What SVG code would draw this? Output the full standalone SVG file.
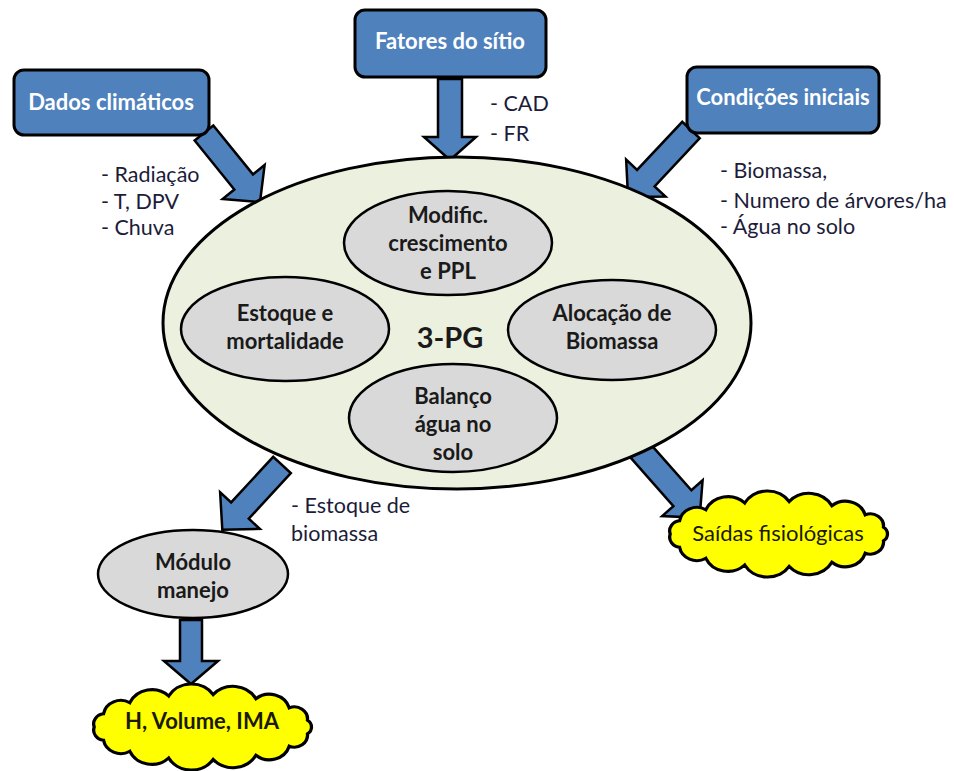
<svg xmlns="http://www.w3.org/2000/svg" width="954" height="771" viewBox="0 0 954 771">
<defs>
<style>
.box{fill:#4F81BD;stroke:#000;stroke-width:3}
.btxt{font-family:Lato,"Liberation Sans",sans-serif;font-weight:bold;font-size:22px;fill:#fff;text-anchor:middle}
.arr{fill:#4F81BD;stroke:#000;stroke-width:2.5;stroke-linejoin:miter}
.big{fill:#EBF1DE;stroke:#000;stroke-width:3}
.inner{fill:#D9D9D9;stroke:#000;stroke-width:2.5}
.itxt{font-family:Lato,"Liberation Sans",sans-serif;font-weight:bold;font-size:22px;fill:#1a1a1a;text-anchor:middle}
.lbl{font-family:Lato,"Liberation Sans",sans-serif;font-size:21.5px;fill:#1c1c3a}
.cloud{fill:#FFFF00;stroke:#000;stroke-width:3}
.ctxt{font-family:Lato,"Liberation Sans",sans-serif;font-weight:bold;font-size:22px;fill:#1a1a00;text-anchor:middle}
</style>
<path id="cloudShape" d="M -98 0 A 10 10 0 0 1 -89.5 -13 A 16 16 0 0 1 -65.6 -23.8 A 22 22 0 0 1 -30.3 -30.4 A 24 24 0 0 1 10.2 -31.8 A 24 24 0 0 1 49 -27.7 A 19 19 0 0 1 79.3 -18.8 A 12 12 0 0 1 95.9 -6.7 A 8 8 0 0 1 95.9 6.7 A 12 12 0 0 1 79.3 18.8 A 19 19 0 0 1 49 27.7 A 24 24 0 0 1 10.2 31.8 A 24 24 0 0 1 -30.3 30.4 A 22 22 0 0 1 -65.6 23.8 A 16 16 0 0 1 -89.5 13 A 10 10 0 0 1 -98 0 Z"/>
</defs>
<rect width="954" height="771" fill="#fff"/>

<g id="connectors">
<path class="arr" transform="translate(204,133) rotate(51)" d="M0,-12 L63,-12 L63,-27 L89,0 L63,27 L63,12 L0,12 Z"/>
<path class="arr" transform="translate(450,79) rotate(90)" d="M0,-12 L58,-12 L58,-26 L81,0 L58,26 L58,12 L0,12 Z"/>
<path class="arr" transform="translate(691,130) rotate(133.2)" d="M0,-12 L66,-12 L66,-27 L92,0 L66,27 L66,12 L0,12 Z"/>
<path class="arr" transform="translate(282,465) rotate(132.7)" d="M0,-12 L62,-12 L62,-27 L88,0 L62,27 L62,12 L0,12 Z"/>
<path class="arr" transform="translate(638,448) rotate(48.5)" d="M0,-12 L67,-12 L67,-27 L93,0 L67,27 L67,12 L0,12 Z"/>
<path class="arr" transform="translate(191,620) rotate(90)" d="M0,-11 L41,-11 L41,-27 L64,0 L41,27 L41,11 L0,11 Z"/>
</g>

<g id="n-dados">
<rect class="box" x="14" y="70" width="195" height="65" rx="10"/>
<text class="btxt" x="111" y="110">Dados climáticos</text>
</g>
<g id="n-fatores">
<rect class="box" x="355" y="10" width="191" height="67" rx="10"/>
<text class="btxt" x="450" y="49">Fatores do sítio</text>
</g>
<g id="n-condicoes">
<rect class="box" x="687" y="67" width="192" height="66" rx="10"/>
<text class="btxt" x="783" y="105">Condições iniciais</text>
</g>

<g id="lbl-clima">
<text class="lbl" x="101" y="182">- Radiação</text>
<text class="lbl" x="101" y="209">- T, DPV</text>
<text class="lbl" x="101" y="235">- Chuva</text>
</g>
<g id="lbl-sitio">
<text class="lbl" x="490" y="111">- CAD</text>
<text class="lbl" x="490" y="141">- FR</text>
</g>
<g id="lbl-cond">
<text class="lbl" x="720" y="178">- Biomassa,</text>
<text class="lbl" x="720" y="208">- Numero de árvores/ha</text>
<text class="lbl" x="720" y="234">- Água no solo</text>
</g>

<g id="n-3pg">
<ellipse class="big" cx="457" cy="323" rx="294" ry="166"/>
<text x="450" y="348" font-family="Lato,'Liberation Sans',sans-serif" font-weight="bold" font-size="29" fill="#1a1a1a" text-anchor="middle">3-PG</text>
</g>
<g id="n-modific">
<ellipse class="inner" cx="448" cy="243" rx="104" ry="52"/>
<text class="itxt" x="448" y="223">Modific.</text>
<text class="itxt" x="448" y="251">crescimento</text>
<text class="itxt" x="448" y="279">e PPL</text>
</g>
<g id="n-estoque">
<ellipse class="inner" cx="285" cy="329" rx="104" ry="52"/>
<text class="itxt" x="285" y="321">Estoque e</text>
<text class="itxt" x="285" y="349">mortalidade</text>
</g>
<g id="n-alocacao">
<ellipse class="inner" cx="612" cy="330" rx="104" ry="50"/>
<text class="itxt" x="612" y="321">Alocação de</text>
<text class="itxt" x="612" y="349">Biomassa</text>
</g>
<g id="n-balanco">
<ellipse class="inner" cx="453" cy="418" rx="104" ry="54"/>
<text class="itxt" x="453" y="404">Balanço</text>
<text class="itxt" x="453" y="432">água no</text>
<text class="itxt" x="453" y="460">solo</text>
</g>

<g id="lbl-estoque">
<text class="lbl" x="291" y="513">- Estoque de</text>
<text class="lbl" x="291" y="541">biomassa</text>
</g>

<g id="n-modulo">
<ellipse class="inner" cx="193" cy="574" rx="95" ry="44"/>
<text class="itxt" x="193" y="570">Módulo</text>
<text class="itxt" x="193" y="598">manejo</text>
</g>

<g id="n-saidas">
<use href="#cloudShape" class="cloud" transform="translate(778,534) scale(1.1,1.02)"/>
<text x="778" y="541" font-family="Lato,'Liberation Sans',sans-serif" font-size="22" fill="#1a1a00" text-anchor="middle">Saídas fisiológicas</text>
</g>
<g id="n-hvol">
<use href="#cloudShape" class="cloud" transform="translate(202,727) scale(1.1,1.02)"/>
<text class="ctxt" x="202" y="729">H, Volume, IMA</text>
</g>
</svg>
